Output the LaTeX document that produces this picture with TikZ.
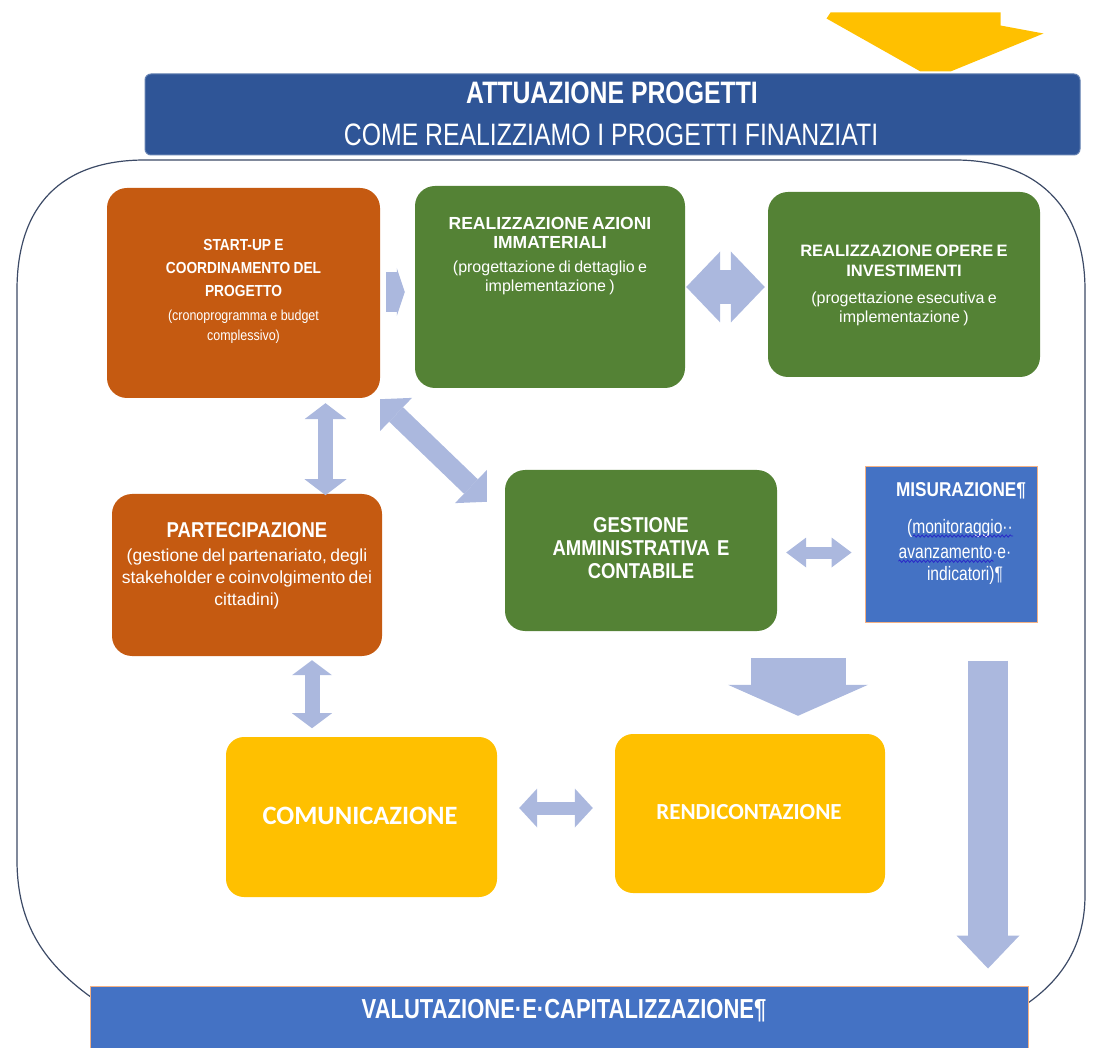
\documentclass[tikz,border=0pt]{standalone}
\usepackage{fontspec}
\setmainfont{Liberation Sans}
\newfontfamily\narfont{Liberation Sans}[FakeStretch=0.8]
\newfontfamily\boxfont{Liberation Sans}[FakeStretch=0.86]
\newfontfamily\wfont{Liberation Sans}
\newfontfamily\calfont{Carlito}
\usetikzlibrary{arrows.meta,calc,decorations.pathmorphing}
\definecolor{orng}{HTML}{C55A11}
\definecolor{grn}{HTML}{548235}
\definecolor{dblue}{HTML}{2F5597}
\definecolor{lblue}{HTML}{4472C4}
\definecolor{ylw}{HTML}{FFC000}
\definecolor{arw}{HTML}{ABB8DE}
\definecolor{outl}{HTML}{3C4A66}
\definecolor{bord}{HTML}{F4B183}
\definecolor{wavy}{HTML}{2A2AC8}
\begin{document}
\begin{tikzpicture}[x=1pt,y=-1pt,
  obox/.style={fill=orng, rounded corners=20pt, inner sep=0pt},
  gbox/.style={fill=grn, rounded corners=20pt, inner sep=0pt},
  ybox/.style={fill=ylw, rounded corners=18pt, inner sep=0pt},
  btxt/.style={text=white, align=center, inner sep=0pt, font=\boxfont},
  ltxt/.style={text=white, inner sep=0pt},
  wavyline/.style={draw=wavy, line width=0.8pt, decorate, decoration={snake, amplitude=1.2pt, segment length=4pt}},
  blk/.style n args={4}{draw=#1, line width=#2, -{Triangle[width=#3,length=#4,line width=0pt,fill=#1]}},
  dbl/.style n args={4}{draw=#1, line width=#2, {Triangle[width=#3,length=#4,line width=0pt,fill=#1]}-{Triangle[width=#3,length=#4,line width=0pt,fill=#1]}}
]
\useasboundingbox (0,0) rectangle (1093,1048);

% container outline
\draw[outl, line width=1.2pt] (95,1000) .. controls (45,965) and (17,925) .. (17,860) -- (17,290)
  .. controls (17,205) and (62,160) .. (145,160) -- (955,160)
  .. controls (1035,160) and (1085,205) .. (1085,290) -- (1085,895)
  .. controls (1085,945) and (1062,980) .. (1025,1005);

% header
\node[fill=dblue, draw=dblue!75!white, line width=1pt, rounded corners=6pt, minimum width=935pt, minimum height=81pt, inner sep=0pt] (header) at (612.5,114.5) {};
\node[ltxt, font=\narfont\bfseries\fontsize{31}{33}\selectfont] (h1) at (612,93) {ATTUAZIONE PROGETTI};
\node[ltxt, font=\narfont\fontsize{31}{33}\selectfont] (h2) at (611,135) {COME REALIZZIAMO I PROGETTI FINANZIATI};

% top yellow arrow (into the header)
\fill[ylw] ($(header.north east)+(-250,-61)$) -- ($(header.north east)+(-80,-61)$)
  -- ($(header.north east)+(-80,-48)$) -- ($(header.north east)+(-37,-40)$)
  -- ($(header.north east)+(-130,-2)$) -- ($(header.north east)+(-160,-2)$)
  -- ($(header.north east)+(-254,-55)$) -- cycle;

% boxes
\node[obox, minimum width=273pt, minimum height=210pt] (start) at (243.5,293) {};
\node[btxt, text width=250pt] (startT) at (243.5,291) {%
  {\bfseries\fontsize{16}{23}\selectfont START-UP E\\COORDINAMENTO DEL\\PROGETTO\par}
  {\fontsize{14.5}{20}\selectfont\vspace{4pt}(cronoprogramma e budget\\complessivo)\par}};

\node[gbox, minimum width=270pt, minimum height=202pt] (azioni) at (550,287) {};
\node[btxt, text width=260pt, font=\wfont] (azioniT) at (550,256) {%
  {\bfseries\fontsize{17.5}{19}\selectfont REALIZZAZIONE AZIONI\\IMMATERIALI\par}
  {\fontsize{16}{19}\selectfont\vspace{5pt}(progettazione di dettaglio e\\implementazione )\par}};

\node[gbox, minimum width=272pt, minimum height=185pt] (opere) at (904,284.5) {};
\node[btxt, text width=260pt, font=\wfont] (opereT) at (904,285) {%
  {\bfseries\fontsize{16.5}{20}\selectfont REALIZZAZIONE OPERE E\\INVESTIMENTI\par}
  {\fontsize{16}{19}\selectfont\vspace{8pt}(progettazione esecutiva e\\implementazione )\par}};

\node[obox, minimum width=270pt, minimum height=162pt] (part) at (247,575) {};
\node[btxt, text width=266pt] (partT) at (247,566) {%
  {\bfseries\fontsize{21.5}{22}\selectfont PARTECIPAZIONE\par}
  {\wfont\fontsize{17.5}{22}\selectfont\vspace{2pt}(gestione del partenariato, degli\\stakeholder e coinvolgimento dei\\cittadini)\par}};

\node[gbox, minimum width=272pt, minimum height=161pt] (gest) at (641,550.5) {};
\node[btxt, text width=260pt, font=\boxfont\bfseries\fontsize{21.5}{23}\selectfont] (gestT) at (641,548) {GESTIONE\\AMMINISTRATIVA E\\CONTABILE};

\node[fill=lblue, draw=bord, line width=1pt, minimum width=172pt, minimum height=155pt, inner sep=0pt] (mis) at (951,544.5) {};
\node[ltxt, font=\boxfont\bfseries\fontsize{20}{22}\selectfont] (misL1) at (961,491) {MISURAZIONE¶};
\node[ltxt, font=\narfont\fontsize{19.5}{22}\selectfont] (misL2) at (960,528) {(monitoraggio··};
\node[ltxt, font=\narfont\fontsize{19.5}{22}\selectfont] (misL3) at (955,552) {avanzamento·e·};
\node[ltxt, font=\narfont\fontsize{19.5}{22}\selectfont] (misL4) at (965,575) {indicatori)¶};
\draw[wavyline] ($(misL2.base west)+(6,3)$) -- ($(misL2.base east)+(0,3)$);
\draw[wavyline] ($(misL3.base west)+(0,3)$) -- ($(misL3.base east)+(-18,3)$);

\node[ybox, minimum width=271pt, minimum height=160pt] (com) at (361.5,817) {};
\node[ltxt, font=\calfont\bfseries\fontsize{26.5}{28}\selectfont] (comT) at (360,816) {COMUNICAZIONE};

\node[ybox, minimum width=270pt, minimum height=159pt] (rend) at (750,813.5) {};
\node[ltxt, font=\calfont\bfseries\fontsize{23}{26}\selectfont] (rendT) at (749,812) {RENDICONTAZIONE};

% bottom bar
\node[fill=lblue, draw=bord, line width=1pt, minimum width=938pt, minimum height=80pt, inner sep=0pt] (val) at (559,1026) {};
\node[ltxt, font=\narfont\bfseries\fontsize{27.5}{29}\selectfont] (valT) at (564,1011) {VALUTAZIONE·E·CAPITALIZZAZIONE¶};

% block arrows
\draw[blk={arw}{40pt}{48pt}{8pt}] ($(start.east)+(6,-1)$) -- ($(start.east -| azioni.west)+(-10,-1)$);
\draw[dbl={arw}{34pt}{71pt}{34pt}] ($(azioni.east)+(1,0)$) -- ($(azioni.east -| opere.west)+(-3,0)$);
\draw[dbl={arw}{15pt}{42pt}{16pt}] ($(start.south)+(82,5)$) -- ($(start.south)+(82,97)$);
\draw[dbl={arw}{20pt}{46pt}{22pt}] ($(start.south east)+(0,1)$) -- ($(gest.north west)+(-18,32)$);
\draw[dbl={arw}{12pt}{30pt}{20pt}] ($(gest.east)+(9,2)$) -- ($(gest.east -| mis.west)+(-13,2)$);
\draw[dbl={arw}{15pt}{40pt}{15pt}] ($(part.south)+(65,4)$) -- ($(part.south)+(65,72)$);
\draw[blk={arw}{95pt}{140pt}{31pt}] ($(rend.north)+(48,-76)$) -- ($(rend.north)+(48,-18)$);
\draw[blk={arw}{40pt}{63pt}{33pt}] ($(mis.south)+(37,38)$) -- ($(val.north)+(429,-17)$);
\draw[dbl={arw}{13pt}{39pt}{18pt}] ($(com.east)+(22,-9)$) -- ($(com.east -| rend.west)+(-22,-9)$);
\end{tikzpicture}
\end{document}
